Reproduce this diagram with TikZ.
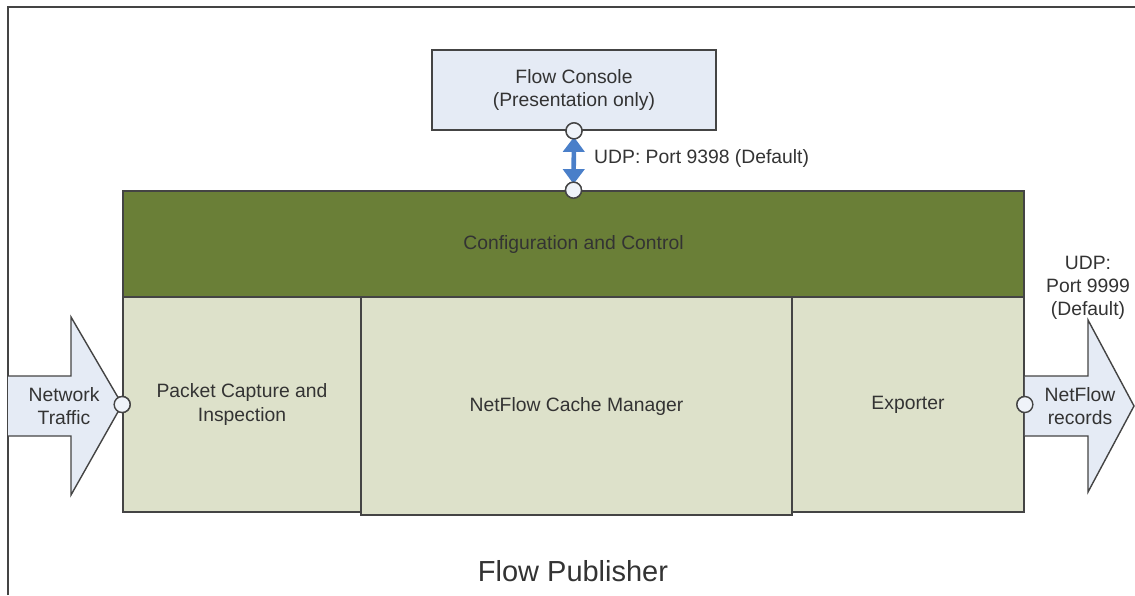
\documentclass[tikz,border=0pt]{standalone}
\usepackage{fontspec}
\setmainfont{Liberation Sans}
\usetikzlibrary{arrows.meta}

\definecolor{edgegray}{HTML}{444444}
\definecolor{textgray}{HTML}{333333}
\definecolor{paleblue}{HTML}{E5EBF5}
\definecolor{darkolive}{HTML}{6A7F37}
\definecolor{paleolive}{HTML}{DDE1CA}
\definecolor{linkblue}{HTML}{4A7FC9}

\begin{document}
\begin{tikzpicture}[x=0.02cm,y=-0.02cm,
    every node/.style={text=textgray,font=\fontsize{11}{13.2}\selectfont,align=center},
    block/.style={rectangle,draw=edgegray,line width=1pt,inner sep=0pt},
    port/.style={circle,draw=edgegray,line width=0.8pt,fill=paleblue!60!white,minimum size=0.32cm,inner sep=0pt},
    bigarrow/.style={draw=edgegray,line width=0.8pt,fill=paleblue}]
\useasboundingbox (0,0) rectangle (1135,595);

% outer frame (open at the right and bottom)
\draw[edgegray,line width=1.4pt] (8,595) -- (8,7) -- (1135,7);

% console on top
\node[block,fill=paleblue,minimum width=5.68cm,minimum height=1.6cm] (console) at (574,90)
    {Flow Console\\(Presentation only)};

% publisher blocks
\node[block,fill=darkolive,minimum width=18.02cm,minimum height=2.12cm] (control) at (573.5,244)
    {Configuration and Control};
\node[block,fill=paleolive,minimum width=4.76cm,minimum height=4.3cm] (capture) at (242,404.5)
    {Packet Capture and\\Inspection};
\node[block,fill=paleolive,minimum width=4.64cm,minimum height=4.3cm] (exporter) at (908,404.5)
    {Exporter};
\node[block,fill=paleolive,minimum width=8.62cm,minimum height=4.36cm] (cache) at (576.5,406)
    {NetFlow Cache Manager};

% traffic in and records out
\node[port] (inport) at (capture.west) {};
\node[port] (outport) at (exporter.east) {};
\draw[bigarrow] (8,376) -- (71,376) -- (71,317) -- (inport.center) -- (71,495) -- (71,436) -- (8,436);
\draw[bigarrow] (outport.center |- 0,376) -- (1088,376) -- (1088,320) -- (1134,406)
    -- (1088,492) -- (1088,436) -- (outport.center |- 0,436);
\node[port] at (inport) {};
\node[port] at (outport) {};
\node (traffic) at (64,406) {Network\\Traffic};
\node (records) at (1080,406) {NetFlow\\records};
\node (exportudp) at (1088,288) {UDP:\\Port 9999\\(Default)};

% console link
\node[port] (consport) at (console.south) {};
\node[port] (ctrlport) at (control.north) {};
\draw[linkblue,line width=2.6pt,shorten <=-1.5pt,shorten >=-1.5pt,
      {Triangle[width=12pt,length=8.5pt]}-{Triangle[width=12pt,length=8.5pt]}]
    (consport) -- (ctrlport);
\node[port] at (consport) {};
\node[port] at (ctrlport) {};
\node[anchor=west] (consudp) at (588,158) {UDP: Port 9398 (Default)};

\node[font=\fontsize{16.5}{20}\selectfont] (title) at (573,571) {Flow Publisher};
\end{tikzpicture}
\end{document}
